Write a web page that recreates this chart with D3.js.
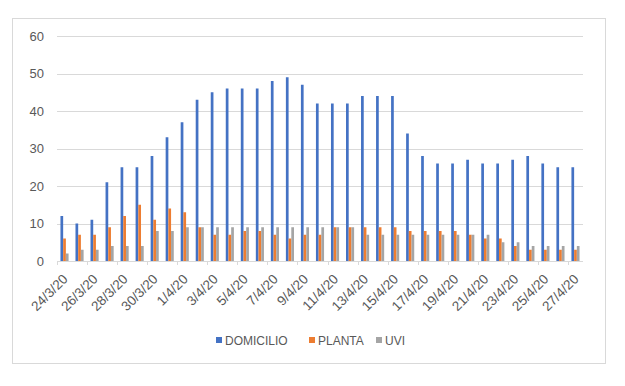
<!DOCTYPE html>
<html>
<head>
<meta charset="utf-8">
<script src="https://cdn.jsdelivr.net/npm/d3@7"></script>
<style>
    body { margin: 0; background: #fff; }
    svg { display: block; font-family: "Liberation Sans", Arial, sans-serif; }
</style>
</head>
<body>
<script>
"use strict";
(function(){
    // Dates on the x axis
    const dates = ["24/3/20","25/3/20","26/3/20","27/3/20","28/3/20","29/3/20","30/3/20","31/3/20",
        "1/4/20","2/4/20","3/4/20","4/4/20","5/4/20","6/4/20","7/4/20","8/4/20","9/4/20","10/4/20",
        "11/4/20","12/4/20","13/4/20","14/4/20","15/4/20","16/4/20","17/4/20","18/4/20","19/4/20",
        "20/4/20","21/4/20","22/4/20","23/4/20","24/4/20","25/4/20","26/4/20","27/4/20"];

    // Series values
    const domicilio = [12,10,11,21,25,25,28,33,37,43,45,46,46,46,48,49,47,42,42,42,44,44,44,34,28,26,26,27,26,26,27,28,26,25,25];
    const planta = [6,7,7,9,12,15,11,14,13,9,7,7,8,8,7,6,7,7,9,9,9,9,9,8,8,8,8,7,6,6,4,3,3,3,3];
    const uvi = [2,3,3,4,4,4,8,8,9,9,9,9,9,9,9,9,9,9,9,9,7,7,7,7,7,7,7,7,7,5,5,4,4,4,4];

    const seriesNames = ["DOMICILIO", "PLANTA", "UVI"];
    const yTicks = [0, 10, 20, 30, 40, 50, 60];

    const colors = d3.scaleOrdinal()
        .domain(seriesNames)
        .range(["#4472C4", "#ED7D31", "#A5A5A5"]);

    const measurements = {
        width: 625,
        height: 386,
        left: 57,
        right: 583,
        top: 36,
        bottom: 261
    }

    const table = dates.map((d, i) => ({
        date: d,
        DOMICILIO: domicilio[i],
        PLANTA: planta[i],
        UVI: uvi[i]
    }));

    const svg = d3.select("body").append("svg")
        .attr("width", measurements.width)
        .attr("height", measurements.height);

    // Chart frame
    svg.append("rect")
        .attr("x", 12.5)
        .attr("y", 18.5)
        .attr("width", 593)
        .attr("height", 345)
        .attr("fill", "#fff")
        .attr("stroke", "#d9d9d9");

    const x0 = d3.scaleBand()
        .domain(dates)
        .range([measurements.left, measurements.right])
        .paddingInner(0.46)
        .paddingOuter(0.23);

    const x1 = d3.scaleBand()
        .domain(seriesNames)
        .range([0, x0.bandwidth()]);

    const y = d3.scaleLinear()
        .domain([0, 60])
        .range([measurements.bottom, measurements.top]);

    // Gridlines
    svg.append("g")
        .selectAll("line")
        .data(yTicks.filter(t => t > 0))
        .enter()
        .append("line")
            .attr("x1", measurements.left)
            .attr("x2", measurements.right)
            .attr("y1", d => Math.round(y(d)) + 0.5)
            .attr("y2", d => Math.round(y(d)) + 0.5)
            .attr("stroke", "#d9d9d9")
            .attr("stroke-width", 1);

    // Y axis labels
    const yAxis = d3.axisLeft(y)
        .tickValues(yTicks)
        .tickSize(0)
        .tickPadding(13);

    svg.append("g")
        .attr("transform", `translate(${measurements.left},0)`)
        .call(yAxis)
        .call(g => g.select(".domain").remove())
        .call(g => g.selectAll("text")
            .attr("fill", "#595959")
            .attr("font-size", 13)
            .attr("font-family", "Liberation Sans, Arial, sans-serif"));

    // Bars
    svg.append("g")
        .selectAll("g")
        .data(table)
        .enter()
        .append("g")
            .attr("transform", d => `translate(${x0(d.date)},0)`)
        .selectAll("rect")
        .data(d => seriesNames.map(k => ({ key: k, value: d[k] })))
        .enter()
        .append("rect")
            .attr("x", d => x1(d.key))
            .attr("y", d => y(d.value))
            .attr("width", x1.bandwidth())
            .attr("height", d => y(0) - y(d.value))
            .attr("fill", d => colors(d.key));

    // X axis line and ticks
    const step = x0.step();
    svg.append("line")
        .attr("x1", measurements.left)
        .attr("x2", measurements.right)
        .attr("y1", measurements.bottom + 0.5)
        .attr("y2", measurements.bottom + 0.5)
        .attr("stroke", "#d9d9d9");

    const tickIdx = d3.range(0, dates.length + 1, 2);
    svg.append("g")
        .selectAll("line")
        .data(tickIdx)
        .enter()
        .append("line")
            .attr("x1", i => Math.round(measurements.left + i * step) + 0.5)
            .attr("x2", i => Math.round(measurements.left + i * step) + 0.5)
            .attr("y1", measurements.bottom)
            .attr("y2", measurements.bottom + 4)
            .attr("stroke", "#d9d9d9");

    // Rotated date labels, every second date
    svg.append("g")
        .selectAll("text")
        .data(dates.filter((d, i) => i % 2 === 0))
        .enter()
        .append("text")
            .attr("transform", d => `translate(${x0(d) + x0.bandwidth() / 2 + 4},280) rotate(-45)`)
            .attr("text-anchor", "end")
            .attr("font-size", 13.5)
            .attr("fill", "#595959")
            .text(d => d);

    // Legend
    const legendPos = [216, 309, 376];
    const legend = svg.append("g")
        .selectAll("g")
        .data(seriesNames)
        .enter()
        .append("g")
            .attr("transform", (d, i) => `translate(${legendPos[i]},337)`);

    legend.append("rect")
        .attr("width", 6)
        .attr("height", 6)
        .attr("fill", d => colors(d));

    legend.append("text")
        .attr("x", 9)
        .attr("y", 7.5)
        .attr("font-size", 12)
        .attr("fill", "#595959")
        .text(d => d);
})()
</script>
</body>
</html>
